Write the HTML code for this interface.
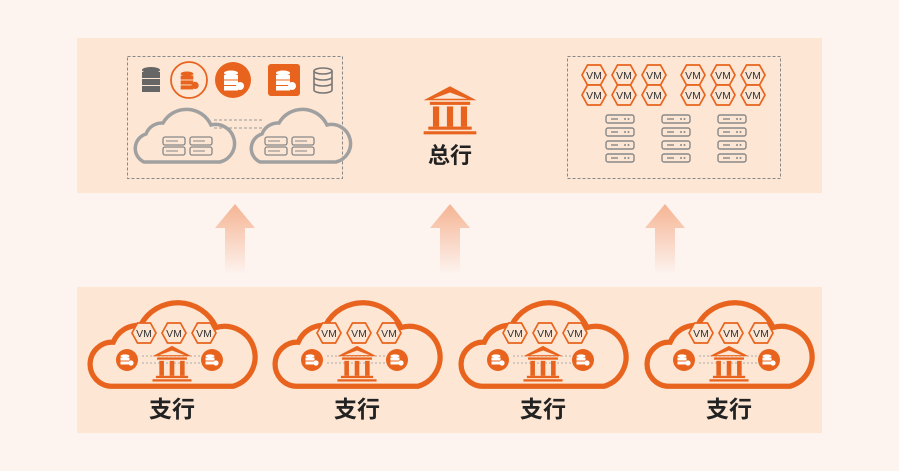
<!DOCTYPE html>
<html><head><meta charset="utf-8"><style>
html,body{margin:0;padding:0;background:#fdf4f0;}
svg{display:block}
text{font-family:"Liberation Sans","Noto Sans CJK SC",sans-serif}
</style></head><body>
<svg width="899" height="471" viewBox="0 0 899 471" xmlns="http://www.w3.org/2000/svg">
<defs>
<linearGradient id="ag" x1="0" y1="0" x2="0" y2="1">
<stop offset="0" stop-color="#f5b493"/><stop offset="1" stop-color="#f5b493" stop-opacity="0"/>
</linearGradient>
<g id="vm"><polygon points="-12,0 -6.5,-10 6.5,-10 12,0 6.5,10 -6.5,10" fill="#fde6d4" stroke="#e8641e" stroke-width="1.7"/><text x="0" y="4" font-size="10.5" text-anchor="middle" fill="#333">VM</text></g>
<g id="bank" fill="#e8641e"><polygon points="0,-14 -17,-5 17,-5"/><polygon points="0,-10 -11,-6 11,-6" fill="#fde6d4"/><rect x="-13" y="-4" width="26" height="2"/><rect x="-11" y="-1" width="4" height="13"/><rect x="-2" y="-1" width="4" height="13"/><rect x="7" y="-1" width="4" height="13"/><rect x="-14" y="12" width="28" height="2"/><rect x="-17" y="15" width="34" height="2"/></g>
<g id="dbc"><circle r="11" fill="#e8641e"/><ellipse cx="-2" cy="-4" rx="4.5" ry="1.6" fill="#fff"/><rect x="-6.5" y="-2.5" width="9" height="3" fill="#fff"/><rect x="-6.5" y="1.5" width="9" height="3" fill="#fff"/><circle cx="4" cy="3" r="2.6" fill="#fff"/></g>
<g id="srv"><rect x="-14" y="-4" width="28" height="8" rx="2" fill="none" stroke="#888" stroke-width="1.4"/><line x1="-9" y1="0" x2="-2" y2="0" stroke="#888" stroke-width="1.4"/><circle cx="5" cy="0" r="1" fill="#888"/><circle cx="8.5" cy="0" r="1" fill="#888"/></g>
<g id="cloud"><path d="M22,86 A21,21 0 0 1 24,44 A26,26 0 0 1 50,28 A40,40 0 0 1 122,30 A28,28 0 0 1 138,86 Z" fill="#fde6d4" stroke="#e8641e" stroke-width="5"/></g>
<g id="gcloud"><path d="M14,58 A15,15 0 0 1 16,30 A17,17 0 0 1 33,19 A27,27 0 0 1 81,21 A19,19 0 0 1 90,58 Z" fill="none" stroke="#a0a0a0" stroke-width="3.5"/></g>
<g id="gsrv"><rect x="-11" y="-9" width="22" height="8" rx="2" fill="none" stroke="#888" stroke-width="1.3"/><rect x="-11" y="1" width="22" height="8" rx="2" fill="none" stroke="#888" stroke-width="1.3"/><line x1="-8" y1="-5" x2="4" y2="-5" stroke="#888" stroke-width="1"/><line x1="-8" y1="5" x2="4" y2="5" stroke="#888" stroke-width="1"/></g>
<g id="branch">
<g transform="translate(-84,-2) scale(1.05)"><use href="#cloud"/></g>
<use href="#vm" x="-28" y="35"/><use href="#vm" x="2" y="35"/><use href="#vm" x="32" y="35"/>
<use href="#dbc" x="-45" y="62"/><use href="#dbc" x="40" y="62"/>
<line x1="-30" y1="58" x2="28" y2="58" stroke="#aaa" stroke-width="1" stroke-dasharray="2,2"/>
<line x1="-30" y1="65" x2="28" y2="65" stroke="#aaa" stroke-width="1" stroke-dasharray="2,2"/>
<g transform="translate(0,64) scale(1.15)"><use href="#bank"/></g>
<text x="0" y="119" font-size="23" text-anchor="middle" fill="#222" font-weight="bold">支行</text>
</g>
</defs>
<rect x="77" y="38" width="745" height="155" fill="#fde6d4"/>
<rect x="77" y="287" width="745" height="146" fill="#fde6d4"/>
<g fill="url(#ag)">
<polygon points="235,204 215,228 225,228 225,275 245,275 245,228 255,228"/>
<polygon points="450,204 430,228 440,228 440,275 460,275 460,228 470,228"/>
<polygon points="665,204 645,228 655,228 655,275 675,275 675,228 685,228"/>
</g>
<rect x="127.5" y="56.5" width="215" height="122" fill="none" stroke="#888" stroke-width="1" stroke-dasharray="3,2"/>
<g transform="translate(151,79)"><ellipse cx="0" cy="-9" rx="9" ry="3" fill="#666"/><rect x="-9" y="-7" width="18" height="6" fill="#666"/><rect x="-9" y="0" width="18" height="6" fill="#666"/><rect x="-9" y="7" width="18" height="6" fill="#666"/></g>
<circle cx="189" cy="80" r="18" fill="none" stroke="#e8641e" stroke-width="1.8"/>
<g transform="translate(187,80) scale(0.9)"><ellipse cx="0" cy="-7" rx="7" ry="2.5" fill="#e8641e"/><rect x="-7" y="-5" width="14" height="4.5" fill="#e8641e"/><rect x="-7" y="0.5" width="14" height="4.5" fill="#e8641e"/><rect x="-7" y="6" width="14" height="4.5" fill="#e8641e"/><circle cx="9" cy="6" r="4" fill="#e8641e"/></g>
<circle cx="233" cy="80" r="18" fill="#e8641e"/>
<g transform="translate(231,80)"><ellipse cx="0" cy="-7" rx="7" ry="2.5" fill="#fff"/><rect x="-7" y="-5" width="14" height="4.5" fill="#fff"/><rect x="-7" y="0.5" width="14" height="4.5" fill="#fff"/><rect x="-7" y="6" width="14" height="4.5" fill="#fff"/><circle cx="9" cy="6" r="4" fill="#fff"/></g>
<rect x="268" y="64" width="32" height="32" rx="3" fill="#e8641e"/>
<g transform="translate(283,80)"><ellipse cx="0" cy="-7" rx="7" ry="2.5" fill="#fff"/><rect x="-7" y="-5" width="14" height="4.5" fill="#fff"/><rect x="-7" y="0.5" width="14" height="4.5" fill="#fff"/><rect x="-7" y="6" width="14" height="4.5" fill="#fff"/><circle cx="9" cy="6" r="4" fill="#fff"/></g>
<g transform="translate(323,80)" fill="none" stroke="#777" stroke-width="1.6"><ellipse cx="0" cy="-9" rx="9" ry="3"/><path d="M-9,-9 V10 A9,3 0 0 0 9,10 V-9 M-9,-3 A9,3 0 0 0 9,-3 M-9,3 A9,3 0 0 0 9,3"/></g>
<line x1="214" y1="120" x2="262" y2="120" stroke="#999" stroke-dasharray="3,2"/>
<line x1="214" y1="128" x2="262" y2="128" stroke="#999" stroke-dasharray="3,2"/>
<use href="#gcloud" x="130" y="104"/>
<use href="#gcloud" x="246" y="104"/>
<use href="#gsrv" x="174" y="146"/><use href="#gsrv" x="201" y="146"/>
<use href="#gsrv" x="276" y="146"/><use href="#gsrv" x="303" y="146"/>
<g transform="translate(450,108) scale(1.55)"><use href="#bank"/></g>
<text x="450" y="163" font-size="22" text-anchor="middle" fill="#222" font-weight="bold">总行</text>
<rect x="567.5" y="56.5" width="213" height="122" fill="none" stroke="#888" stroke-width="1" stroke-dasharray="3,2"/>
<use href="#vm" x="594" y="75"/><use href="#vm" x="624" y="75"/><use href="#vm" x="654" y="75"/>
<use href="#vm" x="693" y="75"/><use href="#vm" x="723" y="75"/><use href="#vm" x="753" y="75"/>
<use href="#vm" x="594" y="95"/><use href="#vm" x="624" y="95"/><use href="#vm" x="654" y="95"/>
<use href="#vm" x="693" y="95"/><use href="#vm" x="723" y="95"/><use href="#vm" x="753" y="95"/>
<g>
<use href="#srv" x="620" y="119"/><use href="#srv" x="620" y="132"/><use href="#srv" x="620" y="145"/><use href="#srv" x="620" y="158"/>
<use href="#srv" x="676" y="119"/><use href="#srv" x="676" y="132"/><use href="#srv" x="676" y="145"/><use href="#srv" x="676" y="158"/>
<use href="#srv" x="732" y="119"/><use href="#srv" x="732" y="132"/><use href="#srv" x="732" y="145"/><use href="#srv" x="732" y="158"/>
</g>
<use href="#branch" x="172" y="298"/>
<use href="#branch" x="357" y="298"/>
<use href="#branch" x="543" y="298"/>
<use href="#branch" x="729" y="298"/>
</svg>
</body></html>
